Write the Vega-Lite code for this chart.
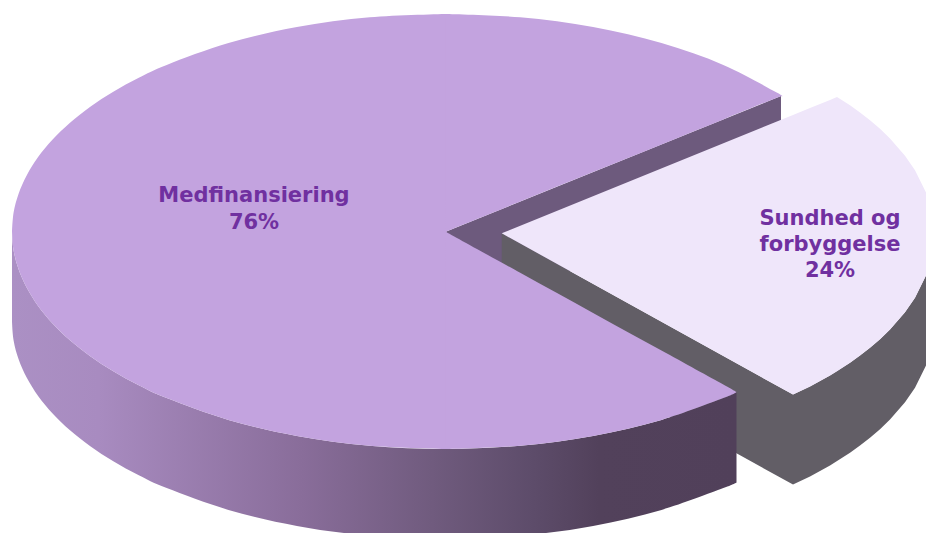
{"$schema":"https://vega.github.io/schema/vega-lite/v6.json","width":926,"height":533,"autosize":{"type":"fit","contains":"padding"},"padding":0,"background":"white","view":{"stroke":null},
"encoding":{"x":{"field":"x","type":"quantitative","scale":{"domain":[0,926],"nice":false,"zero":false},"axis":null},"y":{"field":"y","type":"quantitative","scale":{"domain":[533,0],"nice":false,"zero":false},"axis":null}},
"layer":[
{"data":{"values":[{"slice":"Medfinansiering","x":445.7,"y":231.7,"y2":321.7},{"slice":"Medfinansiering","x":781,"y":96,"y2":186}]},
"mark":{"type":"area","clip":true,"interpolate":"linear","color":"#6d5a7d"},"encoding":{"y2":{"field":"y2"}}},
{"data":{"values":[{"x":501.7,"y":233.3,"y2":323.3},{"x":793,"y":394.6,"y2":484.6},{"x":810,"y":386.4,"y2":476.4},{"x":820,"y":381,"y2":471},{"x":830,"y":375.4,"y2":465.4},{"x":850,"y":362.8,"y2":452.8},{"x":860,"y":355.6,"y2":445.6},{"x":870,"y":347.8,"y2":437.8},{"x":880,"y":339.2,"y2":429.2},{"x":890,"y":329.5,"y2":419.5},{"x":905,"y":312.3,"y2":402.3},{"x":915,"y":297.7,"y2":387.7},{"x":926,"y":275.6,"y2":365.6}]},
"mark":{"type":"area","clip":true,"interpolate":"linear","color":"#625e66"},"encoding":{"y2":{"field":"y2"}}},
{"data":{"values":[{"x":501.7,"y":233.3,"y2":233.3},{"x":793,"y":114.9,"y2":394.6},{"x":810,"y":108,"y2":386.4},{"x":820,"y":103.9,"y2":381},{"x":830,"y":99.9,"y2":375.4},{"x":837,"y":97,"y2":371.2},{"x":850,"y":105.2,"y2":362.8},{"x":860,"y":112.4,"y2":355.6},{"x":870,"y":120.2,"y2":347.8},{"x":880,"y":128.8,"y2":339.2},{"x":890,"y":138.5,"y2":329.5},{"x":905,"y":155.7,"y2":312.3},{"x":915,"y":170.3,"y2":297.7},{"x":926,"y":192.4,"y2":275.6}]},
"mark":{"type":"area","clip":true,"interpolate":"linear","color":"#efe6fa"},"encoding":{"y2":{"field":"y2"}}},
{"data":{"values":[{"x":12,"y":231.5,"y2":321.5},{"x":13.6,"y":250.5,"y2":340.5},{"x":18.6,"y":269.3,"y2":359.3},{"x":26.8,"y":287.8,"y2":377.8},{"x":38.1,"y":305.9,"y2":395.9},{"x":52.6,"y":323.4,"y2":413.4},{"x":70,"y":340.3,"y2":430.3},{"x":90.3,"y":356.3,"y2":446.3},{"x":113.3,"y":371.3,"y2":461.3},{"x":138.8,"y":385.3,"y2":475.3},{"x":166.7,"y":398.1,"y2":488.1},{"x":228.5,"y":419.9,"y2":509.9},{"x":296.9,"y":435.9,"y2":525.9},{"x":369.8,"y":445.7,"y2":535.7},{"x":445,"y":449,"y2":539},{"x":520.2,"y":445.7,"y2":535.7},{"x":593.1,"y":435.9,"y2":525.9},{"x":661.5,"y":419.9,"y2":509.9},{"x":723.3,"y":398.1,"y2":488.1},{"x":736.5,"y":392,"y2":482.5}]},
"mark":{"type":"area","clip":true,"interpolate":"cardinal","color":{"gradient":"linear","x1":0,"x2":1,"y1":0,"y2":0,"stops":[{"offset":0,"color":"#ab90c4"},{"offset":0.12,"color":"#a88bc0"},{"offset":0.4,"color":"#896d9a"},{"offset":0.58,"color":"#705b7e"},{"offset":0.72,"color":"#5d4c6a"},{"offset":0.81,"color":"#52415b"},{"offset":1,"color":"#51405a"}]}},"encoding":{"y2":{"field":"y2"}}},
{"data":{"values":[
{"piece":"a","x":12,"y":231.5,"y2":231.5},{"piece":"a","x":13.6,"y":212.5,"y2":250.5},{"piece":"a","x":18.6,"y":193.7,"y2":269.3},{"piece":"a","x":26.8,"y":175.2,"y2":287.8},{"piece":"a","x":38.1,"y":157.1,"y2":305.9},{"piece":"a","x":52.6,"y":139.6,"y2":323.4},{"piece":"a","x":70,"y":122.7,"y2":340.3},{"piece":"a","x":90.3,"y":106.7,"y2":356.3},{"piece":"a","x":113.3,"y":91.7,"y2":371.3},{"piece":"a","x":138.8,"y":77.7,"y2":385.3},{"piece":"a","x":166.7,"y":64.9,"y2":398.1},{"piece":"a","x":228.5,"y":43.1,"y2":419.9},{"piece":"a","x":296.9,"y":27.1,"y2":435.9},{"piece":"a","x":369.8,"y":17.3,"y2":445.7},{"piece":"a","x":446.5,"y":14,"y2":449},
{"piece":"b","x":445.7,"y":14,"y2":231.7},{"piece":"b","x":520.2,"y":17.3,"y2":201.6},{"piece":"b","x":593.1,"y":27.1,"y2":172.1},{"piece":"b","x":661.5,"y":43.1,"y2":144.4},{"piece":"b","x":723.3,"y":64.9,"y2":119.4},{"piece":"b","x":776.7,"y":92.5,"y2":97.7},{"piece":"b","x":781,"y":96,"y2":96},
{"piece":"c","x":445.7,"y":231.7,"y2":449},{"piece":"c","x":520.2,"y":272.8,"y2":445.7},{"piece":"c","x":593.1,"y":312.9,"y2":435.9},{"piece":"c","x":661.5,"y":350.5,"y2":419.9},{"piece":"c","x":723.3,"y":384.5,"y2":398.1},{"piece":"c","x":736.5,"y":392,"y2":392}]},
"mark":{"type":"area","clip":true,"interpolate":"cardinal","color":"#c3a3df"},"encoding":{"y2":{"field":"y2"},"detail":{"field":"piece"}}},
{"data":{"values":[{"x":254,"y":202,"label":"Medfinansiering"},{"x":254,"y":229,"label":"76%"},{"x":830,"y":225,"label":"Sundhed og"},{"x":830,"y":251,"label":"forbyggelse"},{"x":830,"y":277,"label":"24%"}]},
"mark":{"type":"text","font":"DejaVu Sans","fontWeight":"bold","fontSize":21,"align":"center","baseline":"alphabetic","color":"#7030a0"},"encoding":{"text":{"field":"label"}}}
]}
